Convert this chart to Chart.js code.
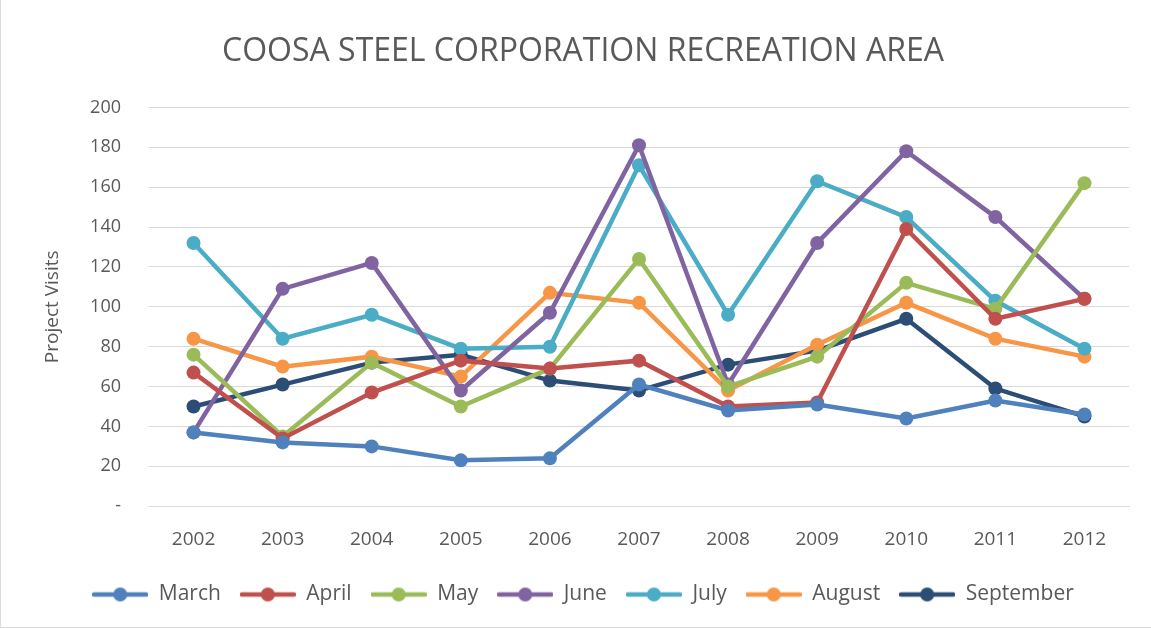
<!DOCTYPE html>
<html lang="en">
<head>
    <meta charset="UTF-8">
    <title>Coosa Steel Corporation Recreation Area</title>
    <script src="https://cdn.jsdelivr.net/npm/chart.js"></script>
    <style>
        body { margin: 0; background: #fff; }
        #wrap {
            width: 1151px;
            height: 628px;
            position: relative;
            box-sizing: border-box;
            border-left: 1px solid #d9d9d9;
            border-bottom: 1px solid #d9d9d9;
        }
    </style>
</head>
<body>
    <div id="wrap"><canvas id="chart"></canvas></div>

    <script>
        const years = ['2002', '2003', '2004', '2005', '2006', '2007', '2008', '2009', '2010', '2011', '2012'];

        const march     = [37, 32, 30, 23, 24, 61, 48, 51, 44, 53, 46];
        const april     = [67, 34, 57, 73, 69, 73, 50, 52, 139, 94, 104];
        const may       = [76, 35, 72, 50, 69, 124, 60, 75, 112, 99, 162];
        const june      = [37, 109, 122, 58, 97, 181, 61, 132, 178, 145, 104];
        const july      = [132, 84, 96, 79, 80, 171, 96, 163, 145, 103, 79];
        const august    = [84, 70, 75, 65, 107, 102, 58, 81, 102, 84, 75];
        const september = [50, 61, 72, 76, 63, 58, 71, 78, 94, 59, 45];

        const yTicks = [0, 20, 40, 60, 80, 100, 120, 140, 160, 180, 200];

        const series = [
            ['March', march, '#4f81bd'],
            ['April', april, '#c0504d'],
            ['May', may, '#9bbb59'],
            ['June', june, '#8064a2'],
            ['July', july, '#4bacc6'],
            ['August', august, '#f79646'],
            ['September', september, '#2c4d75']
        ];

        // legend marker: line with a dot in the middle, like Excel
        function legendMarker(color) {
            const c = document.createElement('canvas');
            c.width = 56;
            c.height = 16;
            const g = c.getContext('2d');
            g.strokeStyle = color;
            g.lineWidth = 4.5;
            g.lineCap = 'round';
            g.beginPath();
            g.moveTo(2, 8);
            g.lineTo(54, 8);
            g.stroke();
            g.fillStyle = color;
            g.beginPath();
            g.arc(28, 8, 7, 0, Math.PI * 2);
            g.fill();
            return c;
        }

        const font = "'Open Sans', sans-serif";
        const grey = '#595959';

        new Chart(document.getElementById('chart'), {
            type: 'line',
            data: {
                labels: years,
                datasets: series.map(([name, values, color]) => ({
                    label: name,
                    data: values,
                    borderColor: color,
                    backgroundColor: color,
                    borderWidth: 4.5,
                    pointRadius: 7,
                    pointHoverRadius: 7,
                    pointBorderWidth: 0,
                    tension: 0,
                    legendMarker: legendMarker(color)
                }))
            },
            options: {
                responsive: true,
                maintainAspectRatio: false,
                animation: false,
                layout: { padding: { left: 36, right: 22, top: 10, bottom: 12 } },
                plugins: {
                    title: {
                        display: true,
                        text: 'COOSA STEEL CORPORATION RECREATION AREA',
                        color: grey,
                        font: { family: font, size: 32, weight: 'normal' },
                        padding: { top: 23, bottom: 36 }
                    },
                    legend: {
                        position: 'bottom',
                        labels: {
                            color: grey,
                            font: { family: font, size: 21 },
                            usePointStyle: true,
                            pointStyleWidth: 56,
                            padding: 19,
                            generateLabels(chart) {
                                return chart.data.datasets.map((ds, i) => ({
                                    text: ds.label,
                                    pointStyle: ds.legendMarker,
                                    fillStyle: ds.borderColor,
                                    strokeStyle: ds.borderColor,
                                    lineWidth: 0,
                                    fontColor: grey,
                                    datasetIndex: i,
                                    hidden: false
                                }));
                            }
                        }
                    },
                    tooltip: { enabled: false }
                },
                scales: {
                    x: {
                        offset: true,
                        grid: { display: false },
                        border: { color: '#d9d9d9' },
                        ticks: { color: grey, font: { family: font, size: 19 }, padding: 14 }
                    },
                    y: {
                        min: 0,
                        max: 200,
                        afterBuildTicks(scale) {
                            scale.ticks = yTicks.map(v => ({ value: v }));
                        },
                        afterFit(scale) {
                            scale.width = 112;
                        },
                        grid: { color: '#d9d9d9', lineWidth: 1, drawTicks: false },
                        border: { display: false },
                        ticks: {
                            color: grey,
                            font: { family: font, size: 18 },
                            padding: 28,
                            callback: v => v === 0 ? '-' : v
                        },
                        title: {
                            display: true,
                            text: 'Project Visits',
                            color: grey,
                            font: { family: font, size: 19 },
                            padding: { bottom: 6 }
                        }
                    }
                }
            }
        });
    </script>
</body>
</html>
